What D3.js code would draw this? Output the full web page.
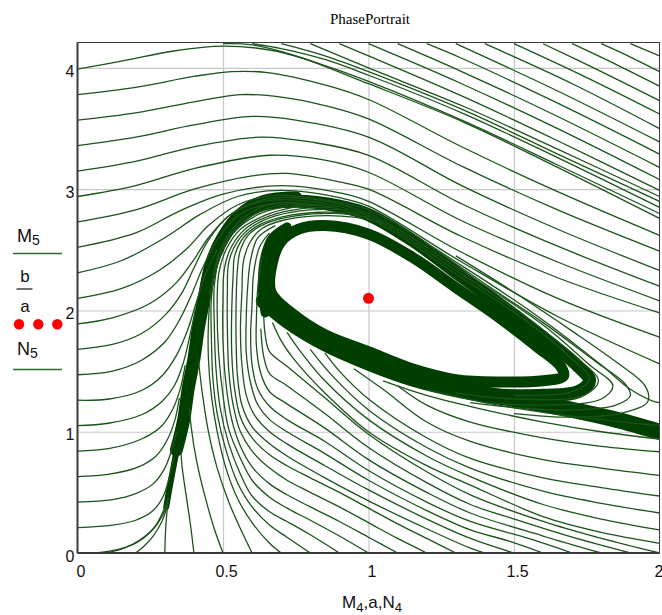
<!DOCTYPE html>
<html>
<head>
<meta charset="utf-8">
<script src="https://cdn.jsdelivr.net/npm/d3@7"></script>
<style>
  html, body { margin: 0; padding: 0; background: #ffffff; }
  svg { display: block; }
</style>
</head>
<body>
<script>
// ---------- axis data ----------
const xTicks = [0, 0.5, 1, 1.5, 2];
const yTicks = [0, 1, 2, 3, 4];
const xTickLabels = ["0", "0.5", "1", "1.5", "2"];
const yTickLabels = ["0", "1", "2", "3", "4"];
const xDomain = [0, 2];
const yDomain = [0, 4.21];

// equilibrium of the system: (a, b/a)
const paramA = 1;
const paramB = 2.1;

// ---------- trajectories (x, y) ----------
// starting on the left edge, x = 0
const fromLeft = [
  [[0,3.99],[0.16,4.06],[0.33,4.14],[0.5,4.18],[0.68,4.14],[0.85,4.02],[1.0,3.89],[1.33,3.56],[1.65,3.2],[2,2.8]],
  [[0,3.78],[0.2,3.84],[0.4,3.93],[0.53,3.97],[0.66,3.96],[0.85,3.86],[1.0,3.74],[1.32,3.35],[1.65,2.98],[2,2.62]],
  [[0,3.57],[0.2,3.63],[0.4,3.72],[0.56,3.78],[0.7,3.76],[0.85,3.69],[1.0,3.58],[1.32,3.19],[1.65,2.83],[2,2.49]],
  [[0,3.36],[0.2,3.43],[0.4,3.53],[0.6,3.6],[0.75,3.57],[1.0,3.43],[1.32,3.03],[1.65,2.67],[2,2.33]],
  [[0,3.15],[0.2,3.23],[0.4,3.35],[0.63,3.43],[0.8,3.39],[1.0,3.28],[1.32,2.88],[1.65,2.53],[2,2.2]],
  [[0,2.94],[0.2,3.03],[0.4,3.17],[0.66,3.28],[0.85,3.24],[1.0,3.14],[1.32,2.74],[1.65,2.4],[2,2.08]],
  [[0,2.73],[0.2,2.83],[0.4,3.0],[0.6,3.11],[0.72,3.13],[0.9,3.06],[1.0,3.0],[1.32,2.61],[1.65,2.27],[2,1.98]],
  [[0,2.52],[0.2,2.64],[0.35,2.82],[0.5,2.96],[0.7,3.03],[0.9,2.97],[1.0,2.9],[1.32,2.48],[1.65,2.1],[2,1.78]],
  [[0,2.31],[0.15,2.41],[0.3,2.6],[0.42,2.79],[0.55,2.94],[0.7,2.99],[0.9,2.93],[1.0,2.86],[1.32,2.4],[1.65,1.95],[2,1.56]],
  [[0,2.1],[0.15,2.18],[0.28,2.33],[0.38,2.52],[0.45,2.7],[0.55,2.87],[0.68,2.95],[0.85,2.91],[1.0,2.83],[1.32,2.37],[1.6,1.92],[1.8,1.55],[1.9,1.35],[1.98,1.25],[2,1.24]],
  [[0,1.89],[0.12,1.94],[0.25,2.06],[0.34,2.23],[0.4,2.42],[0.45,2.6],[0.53,2.8],[0.65,2.92],[0.8,2.92],[1.0,2.8],[1.32,2.33],[1.6,1.88],[1.76,1.55],[1.84,1.38],[1.8,1.27],[1.6,1.22],[1.4,1.24]],
  [[0,1.68],[0.12,1.72],[0.22,1.81],[0.3,1.96],[0.36,2.15],[0.4,2.35],[0.45,2.58],[0.52,2.78],[0.64,2.9],[0.8,2.9],[1.0,2.78],[1.32,2.3],[1.55,1.93],[1.72,1.6],[1.79,1.42],[1.74,1.3],[1.5,1.27],[1.3,1.32]],
  [[0,1.47],[0.12,1.5],[0.22,1.59],[0.3,1.74],[0.35,1.92],[0.39,2.12],[0.43,2.35],[0.48,2.58],[0.55,2.78],[0.66,2.88],[0.8,2.88],[1.0,2.76],[1.32,2.27],[1.55,1.9],[1.7,1.6],[1.76,1.44],[1.7,1.33],[1.5,1.3]],
  [[0,1.26],[0.11,1.27],[0.22,1.34],[0.29,1.46],[0.34,1.63],[0.38,1.85],[0.41,2.08],[0.44,2.3],[0.48,2.5]],
  [[0,1.05],[0.106,1.07],[0.22,1.14],[0.29,1.25],[0.335,1.39],[0.365,1.58],[0.385,1.78],[0.405,2.0]],
  [[0,0.84],[0.106,0.86],[0.22,0.94],[0.29,1.05],[0.33,1.2],[0.355,1.37],[0.37,1.55]],
  [[0,0.63],[0.11,0.65],[0.21,0.71],[0.27,0.8],[0.31,0.94],[0.335,1.1],[0.35,1.28]],
  [[0,0.42],[0.12,0.44],[0.2,0.49],[0.26,0.57],[0.3,0.7],[0.325,0.86],[0.34,1.0]],
  [[0,0.21],[0.12,0.23],[0.2,0.27],[0.26,0.35],[0.295,0.47],[0.315,0.62],[0.33,0.78]]
];

// starting on the top edge, y = 4.2
const fromTop = [
  [[0.5,4.2],[0.6,4.19],[0.75,4.1],[1.0,3.87],[1.33,3.55],[1.65,3.18],[2,2.76]],
  [[0.6,4.2],[0.7,4.16],[0.85,4.07],[1.0,3.94],[1.33,3.62],[1.65,3.26],[2,2.85]],
  [[0.7,4.2],[0.85,4.1],[1.0,3.97],[1.33,3.65],[1.65,3.29],[2,2.9]],
  [[0.8,4.2],[1.0,4.0],[1.33,3.68],[1.65,3.33],[2,2.94]],
  [[0.9,4.2],[1.0,4.1],[1.32,3.77],[1.65,3.4],[2,2.99]],
  [[1.0,4.2],[1.32,3.87],[1.65,3.5],[2,3.08]],
  [[1.1,4.2],[1.32,3.97],[1.65,3.6],[2,3.18]],
  [[1.2,4.2],[1.32,4.08],[1.65,3.71],[2,3.29]],
  [[1.3,4.2],[1.65,3.81],[2,3.39]],
  [[1.4,4.2],[1.7,3.87],[2,3.5]],
  [[1.5,4.2],[1.75,3.92],[2,3.62]],
  [[1.6,4.2],[1.8,3.97],[2,3.73]],
  [[1.7,4.2],[1.85,4.03],[2,3.85]],
  [[1.8,4.2],[1.9,4.09],[2,3.97]],
  [[1.9,4.2],[2,4.1]]
];

// starting on the bottom edge, y = 0
const fromBottom = [
  [[0,0],[0.08,0.005],[0.14,0.03],[0.2,0.08],[0.25,0.17],[0.29,0.3],[0.31,0.42]],
  [[0.1,0],[0.16,0.04],[0.21,0.1],[0.26,0.2],[0.29,0.32],[0.31,0.45]],
  [[0.2,0],[0.23,0.06],[0.26,0.14],[0.29,0.26],[0.31,0.4]],
  [[0.3,0],[0.302,0.15],[0.306,0.3],[0.312,0.45]],
  [[0.4,0],[0.39,0.2],[0.375,0.45],[0.36,0.7],[0.355,0.85]],
  [[0.5,0],[0.47,0.2],[0.44,0.45],[0.41,0.75],[0.39,1.05],[0.385,1.2]],
  [[0.6,0],[0.56,0.2],[0.52,0.42],[0.48,0.7],[0.45,1.0],[0.43,1.3],[0.415,1.6]],
  [[0.7,0],[0.66,0.08],[0.6,0.25],[0.55,0.45],[0.51,0.7],[0.48,1.0],[0.46,1.3],[0.45,1.6],[0.45,1.9],[0.46,2.2],[0.49,2.5],[0.55,2.72],[0.63,2.85],[0.7,2.89]],
  [[0.8,0],[0.72,0.13],[0.66,0.23],[0.6,0.38],[0.55,0.58],[0.51,0.85],[0.48,1.15],[0.465,1.45],[0.46,1.8],[0.46,2.1],[0.48,2.4],[0.53,2.64],[0.61,2.8],[0.7,2.87],[0.76,2.89]],
  [[0.9,0],[0.8,0.15],[0.72,0.26],[0.66,0.34],[0.6,0.47],[0.56,0.65],[0.52,0.9],[0.49,1.2],[0.475,1.55],[0.47,1.9],[0.47,2.2],[0.49,2.45],[0.54,2.65],[0.62,2.79],[0.72,2.86],[0.8,2.88]],
  [[1.0,0],[0.9,0.14],[0.8,0.27],[0.72,0.37],[0.66,0.46],[0.6,0.6],[0.56,0.78],[0.52,1.02],[0.5,1.3],[0.485,1.65],[0.48,2.0],[0.485,2.3],[0.51,2.5],[0.56,2.67],[0.64,2.78],[0.74,2.85],[0.84,2.87]],
  [[1.1,0],[1.0,0.13],[0.9,0.26],[0.8,0.38],[0.72,0.48],[0.66,0.57],[0.6,0.71],[0.56,0.88],[0.53,1.1],[0.51,1.4],[0.5,1.75],[0.5,2.1],[0.505,2.35],[0.53,2.53],[0.58,2.68],[0.66,2.78],[0.77,2.84],[0.88,2.85]],
  [[1.2,0],[1.1,0.12],[1.0,0.25],[0.9,0.38],[0.8,0.5],[0.72,0.6],[0.66,0.7],[0.6,0.84],[0.56,1.0],[0.535,1.22],[0.52,1.5],[0.515,1.85],[0.515,2.15],[0.52,2.4],[0.55,2.57],[0.6,2.69],[0.68,2.78],[0.8,2.83],[0.92,2.83]],
  [[1.3,0],[1.2,0.12],[1.1,0.24],[1.0,0.37],[0.9,0.5],[0.8,0.62],[0.72,0.72],[0.66,0.81],[0.6,0.95],[0.56,1.12],[0.54,1.35],[0.53,1.65],[0.53,2.0],[0.535,2.3],[0.54,2.45],[0.57,2.6],[0.62,2.7],[0.7,2.77],[0.83,2.81],[0.96,2.8]],
  [[1.4,0],[1.35,0.04],[1.2,0.2],[1.0,0.43],[0.85,0.62],[0.72,0.8],[0.66,0.9],[0.6,1.04],[0.565,1.22],[0.55,1.45],[0.545,1.75],[0.545,2.05],[0.55,2.35],[0.56,2.5],[0.59,2.63],[0.65,2.72],[0.75,2.78],[0.88,2.8],[1.0,2.77]],
  [[1.5,0],[1.35,0.12],[1.2,0.28],[1.0,0.52],[0.85,0.72],[0.72,0.9],[0.66,1.0],[0.61,1.13],[0.58,1.3],[0.565,1.55],[0.56,1.85],[0.565,2.15],[0.57,2.4],[0.59,2.55],[0.63,2.67],[0.7,2.74],[0.82,2.78],[0.95,2.77],[1.05,2.72]],
  [[1.6,0],[1.48,0.1],[1.35,0.19],[1.2,0.35],[1.0,0.6],[0.85,0.82],[0.72,1.0],[0.66,1.1],[0.62,1.22],[0.595,1.4],[0.58,1.65],[0.58,1.95],[0.585,2.2],[0.595,2.42],[0.62,2.6],[0.68,2.7]],
  [[1.7,0],[1.55,0.12],[1.35,0.26],[1.2,0.42],[1.0,0.68],[0.85,0.92],[0.72,1.1],[0.66,1.21],[0.62,1.35],[0.6,1.55],[0.595,1.8],[0.6,2.05],[0.605,2.3],[0.625,2.52],[0.66,2.64]],
  [[1.8,0],[1.6,0.14],[1.35,0.33],[1.2,0.5],[1.0,0.77],[0.85,1.03],[0.72,1.23],[0.66,1.33],[0.63,1.48],[0.615,1.7],[0.615,1.95],[0.62,2.2],[0.635,2.45]],
  [[1.9,0],[1.7,0.13],[1.5,0.28],[1.35,0.4],[1.2,0.58],[1.0,0.87],[0.85,1.15],[0.72,1.38],[0.66,1.48],[0.64,1.62],[0.63,1.85]],
  [[2.0,0],[1.8,0.12],[1.6,0.26],[1.35,0.48],[1.2,0.67],[1.0,0.98],[0.85,1.28],[0.72,1.54],[0.66,1.66],[0.645,1.8],[0.64,1.95]]
];

// starting on the right edge, x = 2
const fromRight = [
  [[2,0.08],[1.8,0.17],[1.6,0.3],[1.35,0.56],[1.2,0.72],[1.0,1.0],[0.85,1.32],[0.75,1.58],[0.7,1.75],[0.67,1.9]],
  [[2,0.19],[1.8,0.28],[1.6,0.4],[1.35,0.63],[1.2,0.8],[1.0,1.1],[0.85,1.42],[0.77,1.65],[0.72,1.82]],
  [[2,0.33],[1.8,0.41],[1.6,0.51],[1.35,0.7],[1.2,0.87],[1.0,1.18],[0.88,1.45],[0.8,1.68]],
  [[2,0.47],[1.8,0.54],[1.6,0.62],[1.35,0.78],[1.2,0.95],[1.0,1.27],[0.9,1.5],[0.85,1.65]],
  [[2,0.64],[1.8,0.7],[1.6,0.77],[1.35,0.92],[1.2,1.08],[1.05,1.35],[0.95,1.52]],
  [[2,0.835],[1.8,0.88],[1.6,0.95],[1.35,1.08],[1.2,1.22],[1.1,1.38]],
  [[2,0.94],[1.8,1.0],[1.6,1.08],[1.4,1.18],[1.2,1.3],[1.05,1.42]],
  [[2,1.05],[1.8,1.1],[1.6,1.16],[1.4,1.24],[1.2,1.35]]
];

// outer turns past the right end of the cycle
const outerTurns = [
  [[1.2,2.55],[1.4,2.22],[1.6,1.9],[1.78,1.58],[1.88,1.4],[1.9,1.3],[1.85,1.22],[1.7,1.18],[1.5,1.2],[1.35,1.24]],
  [[1.3,2.45],[1.5,2.15],[1.7,1.83],[1.86,1.56],[1.95,1.38],[1.96,1.25],[1.88,1.16],[1.7,1.12],[1.5,1.15]]
];

// dense accumulations of trajectories
const cycleRing = [[0.665,2.15],[0.67,2.4],[0.7,2.57],[0.76,2.67],[0.85,2.7],[1.0,2.63],[1.15,2.44],[1.3,2.19],[1.45,1.94],[1.58,1.7],[1.66,1.54],[1.67,1.46],[1.6,1.42],[1.45,1.41],[1.3,1.43],[1.15,1.52],[1.0,1.66],[0.85,1.8],[0.74,1.97]];
const ringLeftSide = [[0.645,1.98],[0.635,2.2],[0.645,2.45],[0.67,2.6],[0.72,2.69]];
const outerArc = [[0.44,2.15],[0.47,2.45],[0.53,2.7],[0.62,2.86],[0.75,2.9],[0.9,2.86],[1.0,2.79],[1.15,2.58],[1.32,2.28],[1.48,2.0],[1.62,1.74],[1.72,1.54],[1.76,1.42],[1.72,1.33],[1.6,1.3],[1.45,1.3]];
const lowerArm = [[2.0,1.0],[1.85,1.1],[1.7,1.18],[1.5,1.27],[1.32,1.34],[1.15,1.44],[1.0,1.57],[0.85,1.73],[0.72,1.92],[0.64,2.08]];
const funnelLow = [[0.305,0.38],[0.312,0.48],[0.325,0.65],[0.345,0.9]];
const funnelHigh = [[0.34,0.85],[0.365,1.1],[0.38,1.35],[0.4,1.6],[0.415,1.85],[0.435,2.1],[0.46,2.38],[0.5,2.6],[0.56,2.79],[0.64,2.9],[0.75,2.93]];

// ---------- layout ----------
const W = 662, H = 615;
const plot = { left: 77.5, right: 659.5, top: 42.5, bottom: 553 };

const svg = d3.select("body").append("svg")
  .attr("width", W).attr("height", H)
  .attr("viewBox", `0 0 ${W} ${H}`);

const x = d3.scaleLinear().domain(xDomain).range([plot.left, plot.right]);
const y = d3.scaleLinear().domain(yDomain).range([plot.bottom, plot.top]);

const lineColor = "#1b531b";
const bandColor = "#013f01";
const sansFont = "'Liberation Sans', Arial, sans-serif";

// title
svg.append("text")
  .attr("x", 370).attr("y", 24)
  .attr("text-anchor", "middle")
  .style("font-family", "'Liberation Serif', 'Times New Roman', serif")
  .style("font-size", "15px")
  .attr("fill", "#000")
  .text("PhasePortrait");

// grid lines via axes
const gridX = d3.axisBottom(x).tickValues(xTicks.slice(1, -1)).tickSize(-(plot.bottom - plot.top)).tickFormat("");
const gridY = d3.axisLeft(y).tickValues(yTicks.slice(1)).tickSize(-(plot.right - plot.left)).tickFormat("");
svg.append("g").attr("transform", `translate(0,${plot.bottom})`).call(gridX)
  .call(g => g.select(".domain").remove())
  .call(g => g.selectAll("line").attr("stroke", "#c8c8c8").attr("stroke-width", 1.2));
svg.append("g").attr("transform", `translate(${plot.left},0)`).call(gridY)
  .call(g => g.select(".domain").remove())
  .call(g => g.selectAll("line").attr("stroke", "#c8c8c8").attr("stroke-width", 1.2));

// trajectories, clipped to the plot box
svg.append("clipPath").attr("id", "plotClip")
  .append("rect")
  .attr("x", plot.left).attr("y", plot.top)
  .attr("width", plot.right - plot.left).attr("height", plot.bottom - plot.top);

const traj = svg.append("g").attr("clip-path", "url(#plotClip)");

const path = d3.line().x(d => x(d[0])).y(d => y(d[1])).curve(d3.curveCatmullRom.alpha(0.5));
const closedPath = d3.line().x(d => x(d[0])).y(d => y(d[1])).curve(d3.curveCatmullRomClosed.alpha(0.5));

// dense bands
const bands = [
  { pts: lowerArm, w: 16, closed: false },
  { pts: outerArc, w: 13, closed: false },
  { pts: cycleRing, w: 11, closed: true },
  { pts: ringLeftSide, w: 9, closed: false },
  { pts: funnelLow, w: 6, closed: false },
  { pts: funnelHigh, w: 13, closed: false }
];
traj.selectAll("path.band").data(bands).join("path")
  .attr("class", "band")
  .attr("d", d => d.closed ? closedPath(d.pts) : path(d.pts))
  .attr("fill", "none")
  .attr("stroke", bandColor)
  .attr("stroke-width", d => d.w)
  .attr("stroke-linejoin", "round")
  .attr("stroke-linecap", "round");

// single trajectories
const allTraj = [].concat(fromLeft, fromTop, fromBottom, fromRight, outerTurns);
traj.selectAll("path.traj").data(allTraj).join("path")
  .attr("class", "traj")
  .attr("d", path)
  .attr("fill", "none")
  .attr("stroke", lineColor)
  .attr("stroke-width", 1.3);

// plot frame
svg.append("rect")
  .attr("x", plot.left).attr("y", plot.top)
  .attr("width", plot.right - plot.left).attr("height", plot.bottom - plot.top)
  .attr("fill", "none").attr("stroke", "#3a3a3a").attr("stroke-width", 1);
svg.append("line")
  .attr("x1", plot.left).attr("x2", plot.left).attr("y1", plot.top).attr("y2", plot.bottom)
  .attr("stroke", "#3a3a3a").attr("stroke-width", 2);
svg.append("line")
  .attr("x1", plot.left).attr("x2", plot.right).attr("y1", plot.bottom).attr("y2", plot.bottom)
  .attr("stroke", "#3a3a3a").attr("stroke-width", 2);

// tick labels via axes
const axisX = d3.axisBottom(x).tickValues(xTicks).tickSize(0).tickPadding(0)
  .tickFormat((d, i) => xTickLabels[i]);
svg.append("g").attr("transform", `translate(3,${plot.bottom + 13})`).call(axisX)
  .call(g => g.select(".domain").remove())
  .call(g => g.selectAll("text").style("font-family", sansFont).style("font-size", "16px").attr("fill", "#111"))
  .call(g => g.selectAll("text").filter(d => d === xTicks[xTicks.length - 1]).attr("text-anchor", "end").attr("dx", 0.5));

const axisY = d3.axisLeft(y).tickValues(yTicks).tickSize(0).tickPadding(0)
  .tickFormat((d, i) => yTickLabels[i]);
svg.append("g").attr("transform", `translate(${plot.left - 3},3)`).call(axisY)
  .call(g => g.select(".domain").remove())
  .call(g => g.selectAll("text").style("font-family", sansFont).style("font-size", "16px").attr("fill", "#111"));

// equilibrium point
svg.append("circle")
  .attr("cx", x(paramA)).attr("cy", y(paramB / paramA)).attr("r", 5.5)
  .attr("fill", "#ff0000");

// x axis title: M4, a, N4
const xt = svg.append("text")
  .attr("x", 372).attr("y", 608)
  .attr("text-anchor", "middle")
  .style("font-family", sansFont).style("font-size", "17px").attr("fill", "#111");
xt.append("tspan").text("M");
xt.append("tspan").attr("dy", 4).style("font-size", "13px").text("4");
xt.append("tspan").attr("dy", -4).text(",a,N");
xt.append("tspan").attr("dy", 4).style("font-size", "13px").text("4");

// y axis legend: M5, b/a, N5
const legend = svg.append("g").style("font-family", sansFont).attr("fill", "#111");
const m5 = legend.append("text").attr("x", 17).attr("y", 242).style("font-size", "18px");
m5.append("tspan").text("M");
m5.append("tspan").attr("dy", 3).style("font-size", "14px").text("5");
legend.append("line").attr("x1", 13).attr("x2", 62).attr("y1", 253.5).attr("y2", 253.5)
  .attr("stroke", "#2f6e2f").attr("stroke-width", 1.6);
legend.append("text").attr("x", 25).attr("y", 282).attr("text-anchor", "middle").style("font-size", "17px").text("b");
legend.append("line").attr("x1", 16.5).attr("x2", 32.5).attr("y1", 289).attr("y2", 289)
  .attr("stroke", "#111").attr("stroke-width", 1.2);
legend.append("text").attr("x", 25).attr("y", 312).attr("text-anchor", "middle").style("font-size", "17px").text("a");
legend.selectAll("circle").data([19, 38.3, 57.3]).join("circle")
  .attr("cx", d => d).attr("cy", 324.3).attr("r", 5.2).attr("fill", "#ff0000");
const n5 = legend.append("text").attr("x", 17).attr("y", 355).style("font-size", "18px");
n5.append("tspan").text("N");
n5.append("tspan").attr("dy", 3).style("font-size", "14px").text("5");
legend.append("line").attr("x1", 13).attr("x2", 62).attr("y1", 369.5).attr("y2", 369.5)
  .attr("stroke", "#2f6e2f").attr("stroke-width", 1.6);
</script>
</body>
</html>
